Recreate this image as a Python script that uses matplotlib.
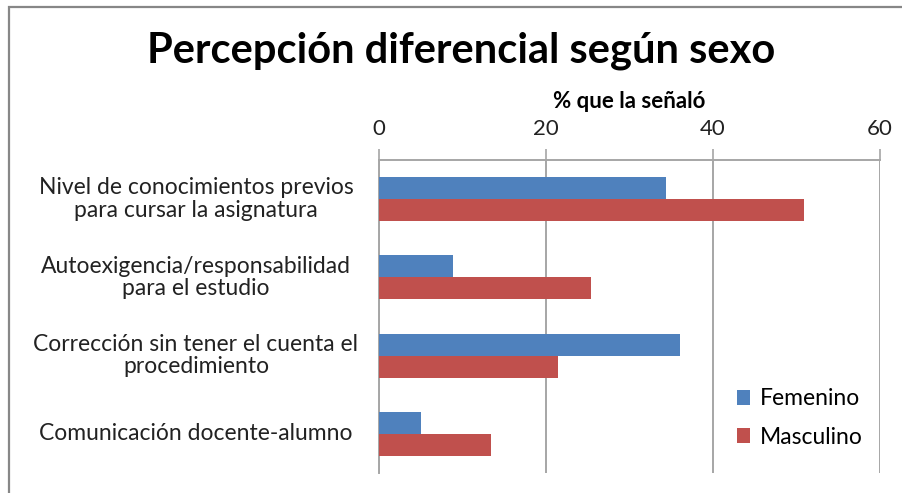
import matplotlib
matplotlib.use("Agg")
import matplotlib.pyplot as plt
from matplotlib.patches import Rectangle
import matplotlib.transforms as mtransforms

categories = [
    "Nivel de conocimientos previos\npara cursar la asignatura",
    "Autoexigencia/responsabilidad\npara el estudio",
    "Corrección sin tener el cuenta el\nprocedimiento",
    "Comunicación docente-alumno",
]
femenino = [34.4, 8.9, 36.0, 5.0]
masculino = [50.9, 25.4, 21.4, 13.4]
xticks = [0, 20, 40, 60]
series_names = ["Femenino", "Masculino"]
title = "Percepción diferencial según sexo"
xlabel = "% que la señaló"

FONT = "Lato"
plt.rcParams["font.family"] = [FONT, "DejaVu Sans"]

W, H = 903, 493
fig = plt.figure(figsize=(W / 100, H / 100), dpi=100)

# figure border (left and top visible)
fig.patches.append(Rectangle((9 / W, -0.1), 1.2, 1 - 7 / H + 0.1, transform=fig.transFigure,
                             fill=False, edgecolor="#878787", linewidth=1.6))

ax = fig.add_axes([379 / W, (H - 473) / H, (880 - 379) / W, (473 - 160) / H])

n = len(categories)
ypos = list(range(n))
bh = 0.28
ax.barh([y - bh / 2 for y in ypos], femenino, height=bh, color="#4F81BD", label=series_names[0], zorder=3)
ax.barh([y + bh / 2 for y in ypos], masculino, height=bh, color="#C0504D", label=series_names[1], zorder=3)

ax.set_ylim(n - 0.5, -0.5)
ax.set_xlim(0, 60)
ax.set_xticks(xticks)
ax.xaxis.tick_top()
ax.xaxis.set_label_position("top")
ax.tick_params(axis="x", direction="out", length=8, width=1.2, color="#a6a6a6",
               labelsize=16, pad=7, labelcolor="#222222")
ax.set_yticks([])
ax.grid(axis="x", color="#a6a6a6", linewidth=1.4, zorder=0)
for s in ["right", "bottom"]:
    ax.spines[s].set_visible(False)
for s in ["top", "left"]:
    ax.spines[s].set_color("#a6a6a6")
    ax.spines[s].set_linewidth(1.4)

ax.set_xlabel(xlabel, fontsize=16, fontweight="bold", labelpad=8)

trans = mtransforms.blended_transform_factory(fig.transFigure, ax.transData)
for y, lab in zip(ypos, categories):
    ax.text(196 / W, y, lab, transform=trans, ha="center", va="center",
            multialignment="center", fontsize=16.5, color="#222222", linespacing=1.08)

fig.text(461 / W, 1 - 51 / H, title, ha="center", va="center", fontsize=30, fontweight="bold")

ax.legend(loc="center left", bbox_to_anchor=(716 / W, 1 - 418 / H), bbox_transform=fig.transFigure,
          frameon=False, fontsize=16.5, handlelength=0.6, handleheight=0.6, handletextpad=0.4,
          labelspacing=0.75)

fig.savefig("out.png", dpi=100)
